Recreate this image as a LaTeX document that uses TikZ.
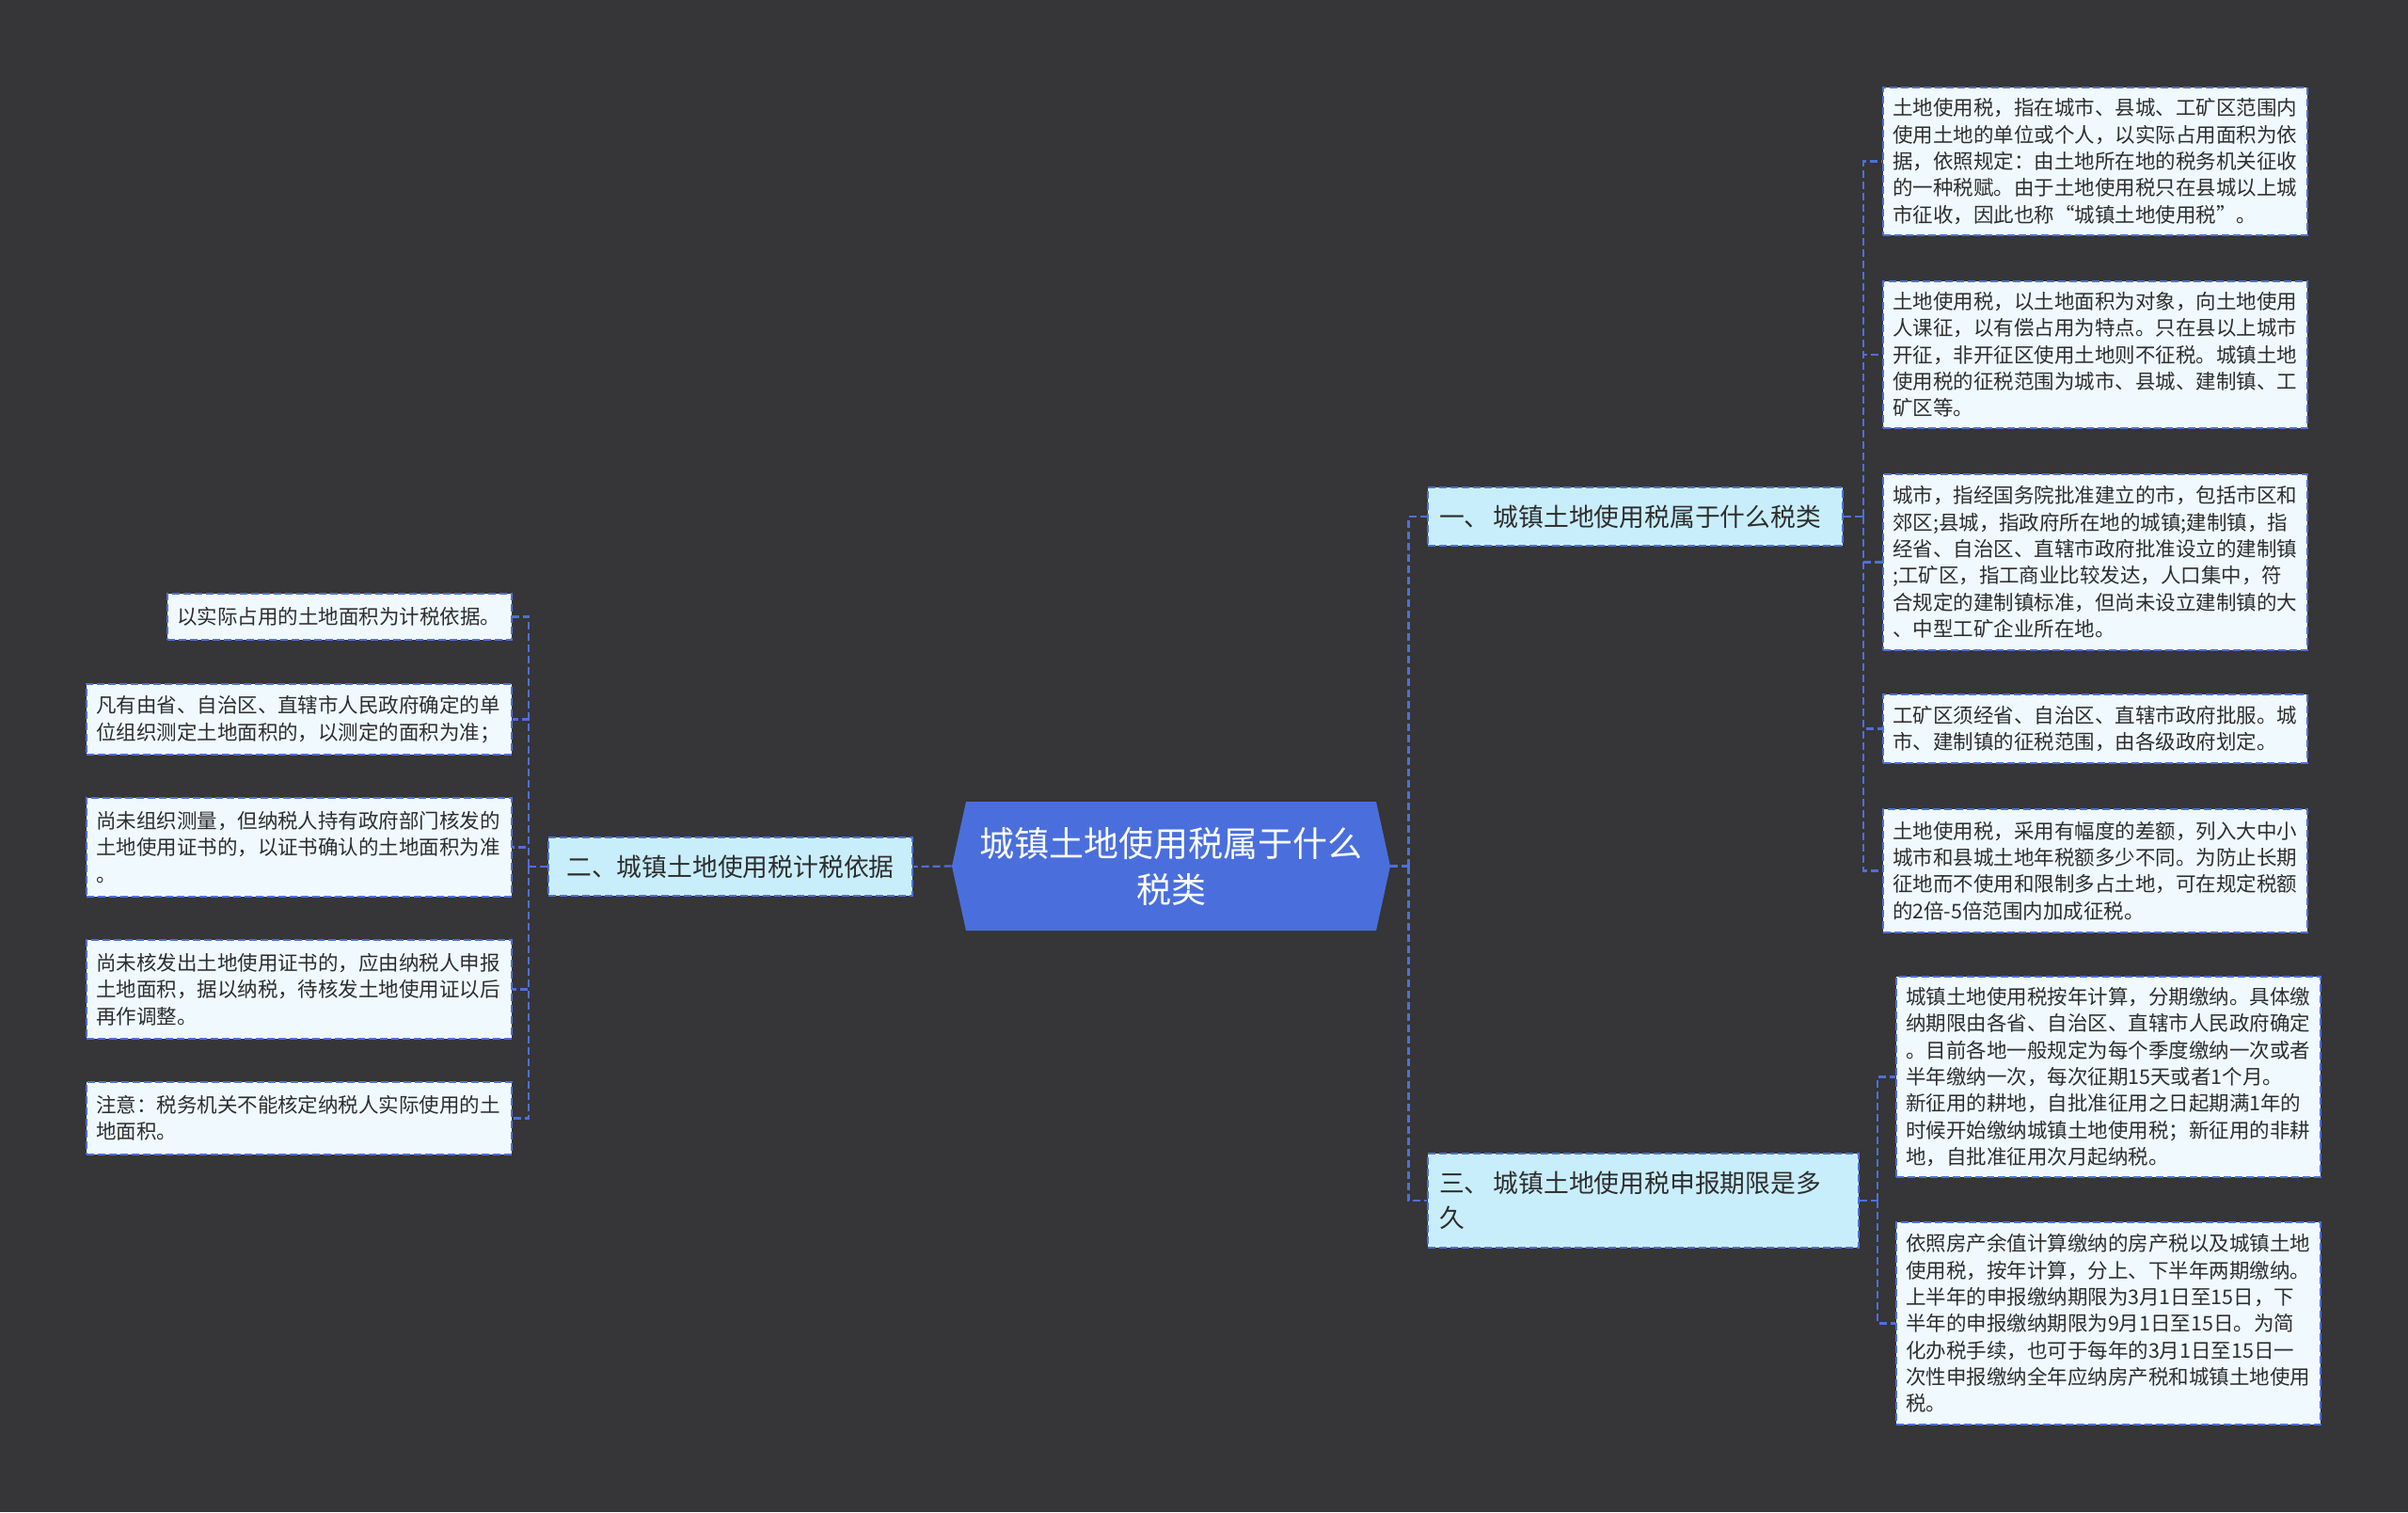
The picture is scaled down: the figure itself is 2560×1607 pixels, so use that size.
\documentclass[tikz,border=0pt]{standalone}
\usepackage{fontspec}
\setmainfont{Noto Sans CJK SC}
\usepackage{tikz}
\usetikzlibrary{positioning,calc}

\definecolor{bgc}{HTML}{363537}
\definecolor{hubc}{HTML}{4A6FDC}
\definecolor{lnc}{HTML}{4D70DA}
\definecolor{secc}{HTML}{C9EEFB}
\definecolor{leafc}{HTML}{F0FAFE}
\definecolor{txtc}{HTML}{2E2E2E}

\begin{document}
\begin{tikzpicture}[x=0.5pt, y=-0.5pt,
  hub/.style={rectangle, fill=bgc, inner sep=0pt, minimum width=233pt,
              minimum height=68.5pt, align=center, text=white,
              font=\fontsize{18.5pt}{24.5pt}\selectfont,
              path picture={\fill[hubc] (path picture bounding box.west)
                -- ([xshift=7.5pt]path picture bounding box.north west)
                -- ([xshift=-7.5pt]path picture bounding box.north east)
                -- (path picture bounding box.east)
                -- ([xshift=-7.5pt]path picture bounding box.south east)
                -- ([xshift=7.5pt]path picture bounding box.south west) -- cycle;}},
  sec/.style={rectangle, draw=lnc, line width=1pt, dash pattern=on 4pt off 2pt,
              fill=secc, text=txtc, inner xsep=6pt, inner ysep=0pt, align=left,
              minimum height=31pt, font=\fontsize{13.4pt}{18.8pt}\selectfont},
  lf/.style={rectangle, draw=lnc, line width=1pt, dash pattern=on 4pt off 2pt,
             fill=leafc, text=txtc, inner xsep=5pt, inner ysep=0pt, align=left,
             text width=215.5pt, font=\fontsize{10.75pt}{14.15pt}\selectfont},
  ln/.style={draw=lnc, line width=1.1pt, dash pattern=on 4pt off 2pt}]
  \fill[bgc] (0,0) rectangle (2560,1607);
  \useasboundingbox (0,0) rectangle (2560,1607);

  % centre and branches
  \node[hub] (c) at (1245,920.5) {城镇土地使用税属于什么\\税类};
  \node[sec, text width=208.5pt] (b1) at (1738.5,549) {一、\hspace{2pt}城镇土地使用税属于什么税类};
  \node[sec, align=center, inner xsep=3pt, minimum width=193.5pt] (b2) at (776.5,921)
    {二、城镇土地使用税计税依据};
  \node[sec, text width=217pt, minimum height=50pt] (b3) at (1747,1276)
    {三、\hspace{2pt}城镇土地使用税申报期限是多\\久};

  % leaves of b1
  \node[lf, minimum height=78.5pt] (r1) at (2227.5,171.5)
    {土地使用税，指在城市、县城、工矿区范围内\\使用土地的单位或个人，以实际占用面积为依\\据，依照规定：由土地所在地的税务机关征收\\的一种税赋。由于土地使用税只在县城以上城\\市征收，因此也称“城镇土地使用税”。};
  \node[lf, minimum height=78pt] (r2) at (2227.5,377)
    {土地使用税，以土地面积为对象，向土地使用\\人课征，以有偿占用为特点。只在县以上城市\\开征，非开征区使用土地则不征税。城镇土地\\使用税的征税范围为城市、县城、建制镇、工\\矿区等。};
  \node[lf, minimum height=93.5pt] (r3) at (2227.5,597.5)
    {城市，指经国务院批准建立的市，包括市区和\\郊区;县城，指政府所在地的城镇;建制镇，指\\经省、自治区、直辖市政府批准设立的建制镇\\;工矿区，指工商业比较发达，人口集中，符\\合规定的建制镇标准，但尚未设立建制镇的大\\、中型工矿企业所在地。};
  \node[lf, minimum height=36.5pt] (r4) at (2227.5,774.5)
    {工矿区须经省、自治区、直辖市政府批服。城\\市、建制镇的征税范围，由各级政府划定。};
  \node[lf, minimum height=65.5pt] (r5) at (2227.5,925.5)
    {土地使用税，采用有幅度的差额，列入大中小\\城市和县城土地年税额多少不同。为防止长期\\征地而不使用和限制多占土地，可在规定税额\\的2倍-5倍范围内加成征税。};

  % leaves of b3
  \node[lf, minimum height=106.5pt] (r6) at (2241.5,1144.5)
    {城镇土地使用税按年计算，分期缴纳。具体缴\\纳期限由各省、自治区、直辖市人民政府确定\\。目前各地一般规定为每个季度缴纳一次或者\\半年缴纳一次，每次征期15天或者1个月。\\新征用的耕地，自批准征用之日起期满1年的\\时候开始缴纳城镇土地使用税；新征用的非耕\\地，自批准征用次月起纳税。};
  \node[lf, minimum height=107.5pt] (r7) at (2241.5,1406.5)
    {依照房产余值计算缴纳的房产税以及城镇土地\\使用税，按年计算，分上、下半年两期缴纳。\\上半年的申报缴纳期限为3月1日至15日，下\\半年的申报缴纳期限为9月1日至15日。为简\\化办税手续，也可于每年的3月1日至15日一\\次性申报缴纳全年应纳房产税和城镇土地使用\\税。};

  % leaves of b2
  \node[lf, text width=173pt, minimum height=24.5pt] (l1) at (361,655.5)
    {以实际占用的土地面积为计税依据。};
  \node[lf, text width=216pt, minimum height=37.5pt] (l2) at (318,764.5)
    {凡有由省、自治区、直辖市人民政府确定的单\\位组织测定土地面积的，以测定的面积为准；};
  \node[lf, text width=216pt, minimum height=52.5pt] (l3) at (318,900.5)
    {尚未组织测量，但纳税人持有政府部门核发的\\土地使用证书的，以证书确认的土地面积为准\\。};
  \node[lf, text width=216pt, minimum height=52.5pt] (l4) at (318,1051.5)
    {尚未核发出土地使用证书的，应由纳税人申报\\土地面积，据以纳税，待核发土地使用证以后\\再作调整。};
  \node[lf, text width=216pt, minimum height=38.5pt] (l5) at (318,1188.5)
    {注意：税务机关不能核定纳税人实际使用的土\\地面积。};

  % connectors
  \draw[ln] (c.west) -- (b2.east);
  \draw[ln] (c.east) -- ++(19,0) coordinate (ct);
  \draw[ln] (ct) |- (b1.west);
  \draw[ln] (ct) |- (b3.west);
  \draw[ln] (b1.east) -- ++(21,0) coordinate (t1);
  \foreach \n in {1,...,5} \draw[ln] (t1) |- (r\n.west);
  \draw[ln] (b3.east) -- ++(19,0) coordinate (t3);
  \foreach \n in {6,7} \draw[ln] (t3) |- (r\n.west);
  \draw[ln] (b2.west) -- ++(-20,0) coordinate (t2);
  \foreach \n in {1,...,5} \draw[ln] (t2) |- (l\n.east);
\end{tikzpicture}
\end{document}
